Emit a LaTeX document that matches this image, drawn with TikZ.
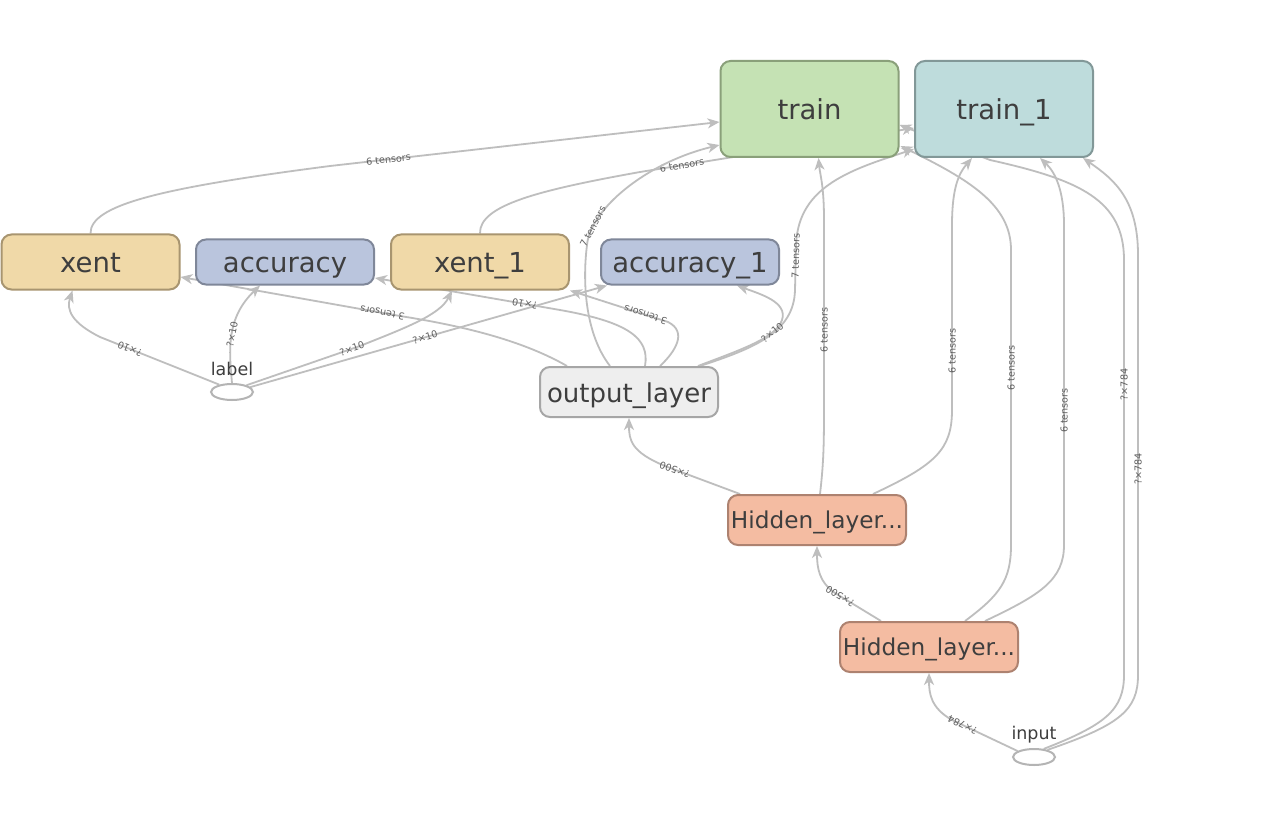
\documentclass[tikz,border=0pt]{standalone}
\usepackage{fontspec}
\setmainfont{DejaVu Sans}
\usetikzlibrary{calc,arrows.meta,shapes.geometric,backgrounds}
\definecolor{txt}{RGB}{62,62,62}
\definecolor{elabc}{RGB}{95,95,95}
\definecolor{edgec}{RGB}{190,190,190}
\definecolor{trainf}{RGB}{197,226,180}
\definecolor{traind}{RGB}{138,160,122}
\definecolor{trainaf}{RGB}{190,220,220}
\definecolor{trainad}{RGB}{130,152,152}
\definecolor{xentf}{RGB}{240,217,168}
\definecolor{xentd}{RGB}{168,149,112}
\definecolor{accf}{RGB}{186,197,221}
\definecolor{accd}{RGB}{127,135,153}
\definecolor{outf}{RGB}{238,238,238}
\definecolor{outd}{RGB}{166,166,166}
\definecolor{hidf}{RGB}{244,188,162}
\definecolor{hidd}{RGB}{173,130,112}
\definecolor{ellc}{RGB}{180,180,180}
\begin{document}
\begin{tikzpicture}[x=1pt,y=-1pt,
  box/.style={draw, rounded corners=10pt, line width=2pt, minimum width=178pt, inner sep=0pt, text=txt},
  bigbox/.style={box, minimum height=96pt, font=\fontsize{27.5}{32}\selectfont, text height=24.6pt, text depth=3.6pt},
  midbox/.style={box, font=\fontsize{27.5}{32}\selectfont, text height=24.6pt, text depth=3.6pt},
  outbox/.style={box, minimum height=50pt, font=\fontsize{26}{30}\selectfont, text height=23.5pt, text depth=3.2pt},
  smallbox/.style={box, minimum height=50pt, font=\fontsize{23.2}{27}\selectfont, text height=20.3pt, text depth=3.6pt},
  ell/.style={ellipse, draw=ellc, line width=2pt, minimum width=42pt, minimum height=16pt, inner sep=0pt},
  etext/.style={text=txt, font=\fontsize{17.5}{20}\selectfont, inner sep=0pt, text height=13.8pt, text depth=4.2pt},
  edge/.style={draw=edgec, line width=1.8pt, -{Stealth[length=12pt,width=10pt,inset=3.5pt]}},
  elab/.style={font=\fontsize{9.6}{11}\selectfont, text=elabc, sloped, allow upside down, inner sep=0pt, anchor=center}]
\useasboundingbox (0,0) rectangle (1265,826);

% nodes
\node[bigbox, fill=trainf, draw=traind] (train) at (809.5,109) {train};
\node[bigbox, fill=trainaf, draw=trainad] (train_1) at (1004,109) {train\_1};
\node[midbox, fill=xentf, draw=xentd, minimum height=55pt] (xent) at (90.5,262) {xent};
\node[midbox, fill=accf, draw=accd, minimum height=45pt] (accuracy) at (285,262) {accuracy};
\node[midbox, fill=xentf, draw=xentd, minimum height=55pt] (xent_1) at (480,262) {xent\_1};
\node[midbox, fill=accf, draw=accd, minimum height=45pt] (accuracy_1) at (690,262) {accuracy\_1};
\node[outbox, fill=outf, draw=outd] (output_layer) at (629,392) {output\_layer};
\node[smallbox, fill=hidf, draw=hidd] (hidden1) at (817,520) {Hidden\_layer...};
\node[smallbox, fill=hidf, draw=hidd] (hidden2) at (929,647) {Hidden\_layer...};
\node[ell] (label) at (232,392) {};
\node[etext] (labeltxt) at (232,371) {label};
\node[ell] (input) at (1034,757) {};
\node[etext] (inputtxt) at (1034,735) {input};

\begin{scope}[on background layer]
\fill[white] (0,0) rectangle (1265,826);
% into train / train_1
\draw[edge] (xent.north) .. controls (90,205) and (160,188) .. (330,166)
  -- node[elab,pos=0.15] {6 tensors} ($(train.west)+(0,13)$);
\draw[edge] (xent_1.north) .. controls (479,205) and (540,190) .. (640,172)
  -- node[elab,pos=0.153] {6 tensors} ($(train_1.west)+(0,19)$);
\draw[edge] ($(output_layer.north)+(-19,0)$) .. controls (586,335) and (582,285) .. (587,245)
  .. controls (590,210) and (645,163) .. node[elab,pos=0.17] {7 tensors} ($(train.west)+(0,36)$);
\draw[edge] ($(output_layer.north)+(71,0)$) .. controls (755,348) and (794,332) .. (795,290)
  -- node[elab,pos=0.75] {7 tensors} (796,245) .. controls (798,195) and (835,175) .. (890,157)
  -- ($(train_1.west)+(0,40)$);
\draw[edge] ($(hidden1.north)+(3,0)$) .. controls (824,460) and (824,440) .. (824,400)
  -- node[elab,pos=0.39] {6 tensors} (824,220) .. controls (824,185) and (820,175) .. ($(train.south)+(9,0)$);
\draw[edge] ($(hidden1.north)+(56,0)$) .. controls (935,465) and (952,450) .. (952,410)
  -- node[elab,pos=0.32] {6 tensors} (952,225) .. controls (952,185) and (960,172) .. ($(train_1.south)+(-32,0)$);
\draw[edge] ($(hidden2.north)+(36,0)$) .. controls (1000,595) and (1011,580) .. (1011,545)
  -- node[elab,pos=0.6] {6 tensors} (1011,250) .. controls (1011,205) and (970,180) .. ($(train.east)+(1,37)$);
\draw[edge] ($(hidden2.north)+(56,0)$) .. controls (1040,595) and (1064,580) .. (1064,545)
  -- node[elab,pos=0.42] {6 tensors} (1064,225) .. controls (1064,190) and (1055,172) .. ($(train_1.south)+(36,0)$);
\draw[edge] (input.40) .. controls (1105,725) and (1124,710) .. (1124,675)
  -- node[elab,pos=0.70] {?×784} (1124,260) .. controls (1124,200) and (1080,180) .. (990,160)
  -- ($(train.east)+(0,16)$);
\draw[edge] (input.28) .. controls (1120,725) and (1138,710) .. (1138,675)
  -- node[elab,pos=0.49] {?×784} (1138,255) .. controls (1138,200) and (1115,180) .. ($(train_1.south)+(79,0)$);
% from label
\draw[edge] (label.150) -- node[elab,pos=0.75] {?×10} (100,337) .. controls (72,323) and (66,310) .. ($(xent.south)+(-18,0)$);
\draw[edge] (label.north) .. controls (229,350) and (226,318) .. node[elab,pos=0.5] {?×10} ($(accuracy.south)+(-25,0)$);
\draw[edge] (label.25) -- node[elab,pos=0.93] {?×10} (360,346) .. controls (405,328) and (440,315) .. ($(xent_1.south)+(-28,0)$);
\draw[edge] (label.15) -- node[elab,pos=0.49] {?×10} ($(accuracy_1.south west)+(7,0)$);
% from output_layer
\draw[edge] ($(output_layer.north)+(-62,0)$) .. controls (525,342) and (470,327) .. (400,316)
  -- node[elab,pos=0.08] {3 tensors} ($(xent.east)+(0,15)$);
\draw[edge] ($(output_layer.north)+(16,0)$) .. controls (650,338) and (628,322) .. (560,310)
  -- node[elab,pos=0.19] {?×10} ($(accuracy.east)+(0,16)$);
\draw[edge] ($(output_layer.north)+(31,0)$) .. controls (675,352) and (688,332) .. (668,322)
  -- node[elab,pos=0.23] {3 tensors} (xent_1.south east);
\draw[edge] ($(output_layer.north)+(69,0)$) .. controls (740,350) and (776,338) .. node[elab,pos=0.75] {?×10} (782,320)
  .. controls (788,302) and (760,294) .. ($(accuracy_1.south)+(47,0)$);
% chain
\draw[edge] ($(hidden1.north)+(-77,0)$) -- node[elab,pos=0.87] {?×500} (665,466) .. controls (631,452) and (629,440) .. (output_layer.south);
\draw[edge] ($(hidden2.north)+(-48,0)$) -- node[elab,pos=0.89] {?×500} (835,593) .. controls (819,582) and (817,568) .. (hidden1.south);
\draw[edge] (input.160) -- node[elab,pos=0.84] {?×784} (952,720) .. controls (931,708) and (929,694) .. (hidden2.south);
\end{scope}
\end{tikzpicture}
\end{document}
